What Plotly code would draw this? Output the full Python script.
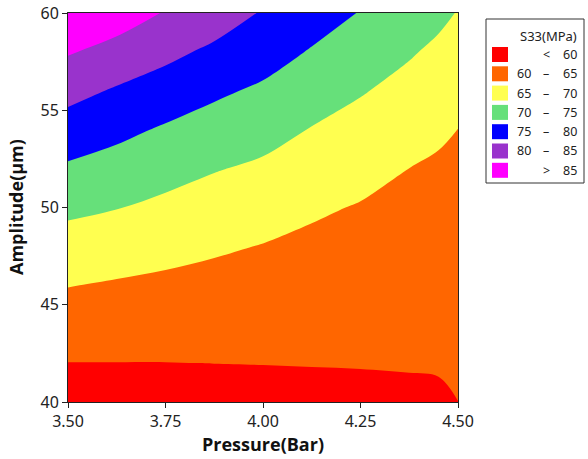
import numpy as np
import plotly.graph_objects as go

# Pressure (Bar) grid columns and Amplitude (um) grid rows
pressure = [3.5, 3.625, 3.75, 3.875, 4.0, 4.125, 4.25, 4.375, 4.45, 4.5]
amplitude = [40, 42, 44, 46, 48, 50, 52, 54, 56, 58, 60]

# S33 (MPa) values, one list per pressure column (amplitude 40 -> 60)
s33_p3500 = [57.70, 59.95, 62.56, 65.14, 68.00, 71.00, 74.33, 77.86, 81.54, 85.39, 89.30]
s33_p3625 = [57.90, 59.95, 62.27, 64.55, 67.29, 70.15, 73.09, 76.17, 79.50, 83.40, 87.40]
s33_p3750 = [58.10, 59.95, 62.04, 64.08, 66.41, 68.97, 71.67, 74.44, 77.76, 81.20, 84.70]
s33_p3875 = [58.30, 60.03, 61.82, 63.64, 65.58, 67.91, 70.27, 72.97, 75.81, 79.03, 82.60]
s33_p4000 = [58.50, 60.08, 61.67, 63.25, 64.84, 67.00, 69.22, 71.67, 74.23, 77.06, 79.60]
s33_p4125 = [58.83, 60.13, 61.45, 62.76, 64.08, 65.63, 67.71, 69.79, 72.20, 74.63, 77.30]
s33_p4250 = [59.04, 60.17, 61.31, 62.44, 63.58, 64.72, 66.44, 68.37, 70.33, 72.56, 74.78]
s33_p4375 = [59.28, 60.24, 61.19, 62.14, 63.10, 64.05, 64.98, 66.79, 68.57, 70.42, 72.50]
s33_p4450 = [59.46, 60.29, 61.13, 61.96, 62.79, 63.63, 64.46, 65.61, 67.37, 69.12, 71.00]
s33_p4500 = [59.98, 60.71, 61.42, 62.13, 62.84, 63.55, 64.26, 64.96, 66.61, 68.31, 69.80]

# Contour levels and legend
level_start, level_end, level_size = 60, 85, 5
band_colors = ["#FF0000", "#FF6600", "#FFFF50", "#66E07A", "#0000FF", "#9933CC", "#FF00FF"]
band_low = ["", "60", "65", "70", "75", "80", ""]
band_sep = ["<", "\u2013", "\u2013", "\u2013", "\u2013", "\u2013", ">"]
band_high = ["60", "65", "70", "75", "80", "85", "85"]
legend_title = "S33(MPa)"

x_ticks = [3.5, 3.75, 4.0, 4.25, 4.5]
y_ticks = [40, 45, 50, 55, 60]

z = np.array([s33_p3500, s33_p3625, s33_p3750, s33_p3875, s33_p4000,
              s33_p4125, s33_p4250, s33_p4375, s33_p4450, s33_p4500]).T

# stepped colorscale: one flat colour per band
n = len(band_colors)
colorscale = []
for i, c in enumerate(band_colors):
    lo = max(0.0, (i - 0.5) / (n - 1))
    hi = min(1.0, (i + 0.5) / (n - 1))
    colorscale.append([lo, c])
    colorscale.append([hi, c])

fig = go.Figure()
fig.add_trace(go.Contour(
    x=pressure, y=amplitude, z=z,
    contours=dict(start=level_start, end=level_end, size=level_size,
                  coloring="fill", showlines=False),
    line=dict(width=0, smoothing=1.0),
    colorscale=colorscale,
    showscale=False,
    hoverinfo="skip",
))

W, H = 588, 459
L, R, T, B = 68, 458, 13, 402


def px(xp):
    return (xp - L) / (R - L)


def py(yp):
    return (B - yp) / (B - T)


shapes = [dict(type="rect", xref="paper", yref="paper",
               x0=px(486), x1=px(584), y0=py(183), y1=py(19),
               line=dict(color="#333333", width=1), fillcolor="white", layer="above")]
annotations = [dict(text=legend_title, xref="paper", yref="paper", x=px(548), y=py(36),
                    showarrow=False, xanchor="center", yanchor="middle",
                    font=dict(family="Noto Sans", size=13, color="#222"))]
row0, dy = 54.5, 19.3
for i, c in enumerate(band_colors):
    yc = row0 + i * dy
    shapes.append(dict(type="rect", xref="paper", yref="paper",
                       x0=px(492), x1=px(508), y0=py(yc + 7.5), y1=py(yc - 7.5),
                       line=dict(width=0), fillcolor=c, layer="above"))
    font = dict(family="Noto Sans", size=12.5, color="#222")
    if band_low[i]:
        annotations.append(dict(text=band_low[i], xref="paper", yref="paper", x=px(533), y=py(yc),
                                showarrow=False, xanchor="right", yanchor="middle", font=font))
    annotations.append(dict(text=band_sep[i], xref="paper", yref="paper", x=px(546), y=py(yc),
                            showarrow=False, xanchor="center", yanchor="middle", font=font))
    annotations.append(dict(text=band_high[i], xref="paper", yref="paper", x=px(579), y=py(yc),
                            showarrow=False, xanchor="right", yanchor="middle", font=font))

title_font = dict(family="Open Sans", size=18, color="#111")
annotations.append(dict(text="<b>Pressure(Bar)</b>", xref="paper", yref="paper",
                        x=px(263), y=py(444), showarrow=False,
                        xanchor="center", yanchor="middle", font=title_font))
annotations.append(dict(text="<b>Amplitude(\u00b5m)</b>", xref="paper", yref="paper",
                        x=px(16), y=py(207), showarrow=False, textangle=-90,
                        xanchor="center", yanchor="middle", font=title_font))

axis_font = dict(family="Noto Sans", size=16, color="#222")

fig.update_layout(
    width=W, height=H,
    margin=dict(l=L, r=W - R, t=T, b=H - B, autoexpand=False),
    paper_bgcolor="white", plot_bgcolor="white",
    showlegend=False,
    shapes=shapes, annotations=annotations,
    xaxis=dict(range=[3.5, 4.5], tickvals=x_ticks, tickformat=".2f",
               ticks="outside", ticklen=5, tickcolor="#222", automargin=False,
               showline=True, linecolor="#222", linewidth=1, mirror=True,
               showgrid=False, zeroline=False, tickfont=axis_font),
    yaxis=dict(range=[40, 60], tickvals=y_ticks, automargin=False,
               ticks="outside", ticklen=5, tickcolor="#222",
               showline=True, linecolor="#222", linewidth=1, mirror=True,
               showgrid=False, zeroline=False, tickfont=axis_font),
)

fig.write_html("out.html", config={"displayModeBar": False},
               post_script="document.body.style.margin='0';document.body.style.overflow='hidden';")
